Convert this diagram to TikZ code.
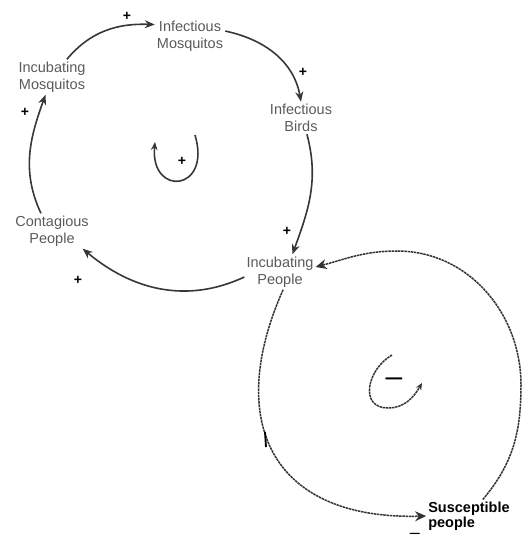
\documentclass[tikz,border=0pt]{standalone}
\usepackage{fontspec}
\setmainfont{Liberation Sans}
\usetikzlibrary{arrows.meta}
\definecolor{cldgray}{RGB}{55,55,55}
\definecolor{cldtext}{RGB}{90,90,90}
\tikzstyle{var} = [align=center, inner sep=2pt, text=cldtext, font=\fontsize{14.5}{17.5}\selectfont]
\tikzstyle{link} = [line width=1.6pt, color=cldgray, -{Stealth[length=10pt,width=8pt]}]
\tikzstyle{rough} = [line width=1.5pt, dash pattern=on 2.5pt off 0.7pt, color=black!80, -{Stealth[length=11pt,width=10pt]}]
\tikzstyle{pol} = [inner sep=0pt, font=\fontsize{14}{14}\selectfont\bfseries]

\begin{document}
\begin{tikzpicture}[x=1pt, y=1pt]
\useasboundingbox (0,0) rectangle (524,-544);

% Variables
\node[var] (imo) at (190,-36) {Infectious\\Mosquitos};
\node[var] (inm) at (52,-77) {Incubating\\Mosquitos};
\node[var] (ib) at (301,-118) {Infectious\\Birds};
\node[var] (cp) at (52,-231) {Contagious\\People};
\node[var] (ipp) at (280,-272) {Incubating\\People};
\node[align=left, inner sep=2pt, font=\fontsize{14.5}{15}\selectfont\bfseries] (sp) at (469,-516) {Susceptible\\people};

% Reinforcing loop
\draw[link] (inm.50) to[out=50, in=178] (imo.162);
\draw[link] (imo.8) to[out=-12, in=100] (ib.north);
\draw[link] (ib.-70) to[out=-75, in=70] (ipp.55);
\draw[link] (ipp.188) to[out=205, in=-40] (cp.-30);
\draw[link] (cp.122) to[out=115, in=-110] (inm.-110);

\node[pol] (p1) at (127,-16) {+};
\node[pol] (p2) at (303,-72) {+};
\node[pol] (p3) at (287,-231) {+};
\node[pol] (p4) at (78,-280) {+};
\node[pol] (p5) at (25,-112) {+};

% Loop sign (R)
\node[pol] (rs) at (182,-161) {+};
\coordinate (rt) at (195,-135);
\coordinate (ra) at (155,-142);
\draw[link, -{Stealth[length=8pt,width=6.5pt]}] (rt) .. controls (212,-192) and (150,-197) .. (ra);

% Balancing loop
\coordinate (cr) at (521,-385);
\coordinate (ct) at (397,-251);
\draw[rough] (ipp.-80) .. controls (225,-420) and (270,-520) .. (sp.west);
\draw[rough] (sp.50) to[out=50, in=-90] (cr) to[out=90, in=0] (ct) to[out=180, in=15] (ipp.8);
\draw[line width=1.8pt] (265,-432) -- (266,-447);
\node[inner sep=0pt, font=\fontsize{18}{18}\selectfont] (m1) at (415,-536) {–};

% Loop sign (B)
\node[inner sep=0pt, font=\fontsize{30}{30}\selectfont] (bs) at (394,-382) {–};
\coordinate (bt) at (392,-355);
\coordinate (bb) at (388,-408);
\coordinate (be) at (422,-383);
\draw[rough, -{Stealth[length=7pt,width=6pt]}] (bt) to[out=210, in=180, looseness=1.4] (bb) to[out=0, in=-120] (be);
\end{tikzpicture}
\end{document}
